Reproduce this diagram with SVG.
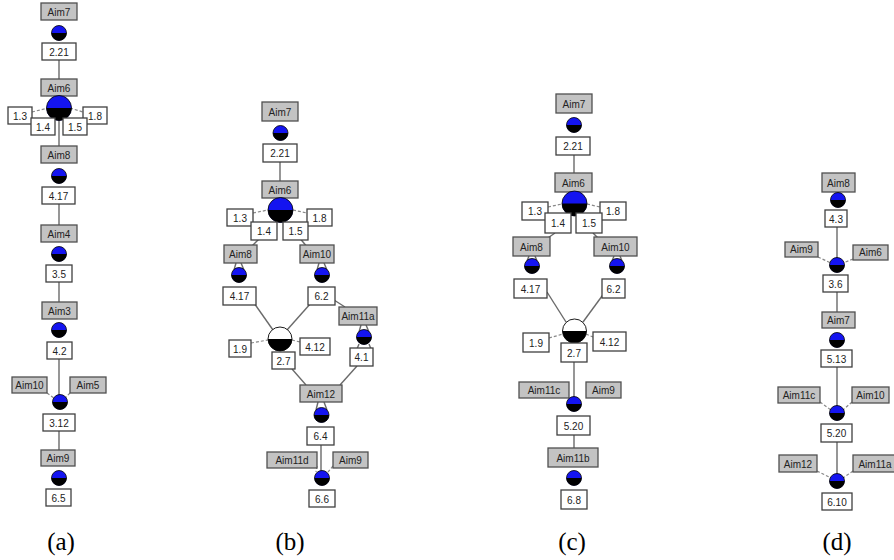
<svg xmlns="http://www.w3.org/2000/svg" xmlns:xlink="http://www.w3.org/1999/xlink" width="894" height="560" viewBox="0 0 894 560">
<style>
.g rect{fill:#c3c3c3;stroke:#505050;stroke-width:1.3}
.w rect{fill:#fff;stroke:#404040;stroke-width:1.3}
text{font-family:"Liberation Sans",Arial,sans-serif;font-size:10px;fill:#222;text-anchor:middle}
.cap{font-family:"Liberation Serif","Times New Roman",serif;font-size:25px;fill:#000}
.ln line{stroke:#6a6a6a;stroke-width:1.4}
.ln .d{stroke-dasharray:3 2;stroke:#888;stroke-width:1.2}
</style>
<defs>
<g id="dot"><circle r="7.5" fill="#1414f0" stroke="#000" stroke-width="0.8"/><path d="M-7.5,0 A7.5,7.5 0 0 0 7.5,0 Z" fill="#000"/></g>
<g id="big"><circle r="12.5" fill="#1414f0" stroke="#000" stroke-width="0.8"/><path d="M-12.5,0 A12.5,12.5 0 0 0 12.5,0 Z" fill="#000"/></g>
<g id="wdot"><circle r="12" fill="#fff" stroke="#000" stroke-width="0.9"/><path d="M-12,0 A12,12 0 0 0 12,0 Z" fill="#000"/></g>
</defs>

<g id="connectors" class="ln">
<!-- a -->
<line x1="59" y1="60" x2="59" y2="79"/>
<line x1="59" y1="120" x2="59" y2="146"/>
<line class="d" x1="32" y1="112" x2="48" y2="108"/>
<line class="d" x1="70" y1="108" x2="83" y2="112"/>
<line x1="59" y1="204" x2="59" y2="225"/>
<line x1="59" y1="282" x2="59" y2="302"/>
<line x1="59" y1="359" x2="59" y2="400"/>
<line class="d" x1="47" y1="393" x2="54" y2="398"/>
<line class="d" x1="70" y1="393" x2="65" y2="398"/>
<line x1="59" y1="431" x2="59" y2="450"/>
<!-- b -->
<line x1="280" y1="162" x2="280" y2="181"/>
<line class="d" x1="253" y1="213" x2="268" y2="210"/>
<line class="d" x1="293" y1="210" x2="307" y2="213"/>
<line x1="262" y1="236" x2="250" y2="248"/>
<line x1="298" y1="236" x2="308" y2="248"/>
<line x1="236" y1="263" x2="234" y2="270"/>
<line x1="241" y1="263" x2="244" y2="270"/>
<line x1="319" y1="263" x2="317" y2="270"/>
<line x1="324" y1="263" x2="327" y2="270"/>
<line x1="254" y1="303" x2="273" y2="330"/>
<line x1="311" y1="303" x2="287" y2="330"/>
<line x1="334" y1="300" x2="345" y2="307"/>
<line x1="361" y1="325" x2="359" y2="332"/>
<line x1="366" y1="325" x2="369" y2="332"/>
<line x1="359" y1="344" x2="357" y2="349"/>
<line x1="369" y1="344" x2="371" y2="349"/>
<line class="d" x1="251" y1="343" x2="268" y2="340"/>
<line class="d" x1="292" y1="340" x2="300" y2="342"/>
<line x1="292" y1="369" x2="306" y2="385"/>
<line x1="357" y1="366" x2="340" y2="385"/>
<line x1="318" y1="402" x2="316" y2="410"/>
<line x1="324" y1="402" x2="327" y2="410"/>
<line x1="321" y1="445" x2="321" y2="478"/>
<line class="d" x1="317" y1="466" x2="316" y2="472"/>
<line class="d" x1="333" y1="466" x2="328" y2="472"/>
<!-- c -->
<line x1="574" y1="155" x2="574" y2="173"/>
<line class="d" x1="548" y1="207" x2="562" y2="204"/>
<line class="d" x1="587" y1="204" x2="600" y2="207"/>
<line x1="555" y1="233" x2="545" y2="240"/>
<line x1="593" y1="233" x2="600" y2="240"/>
<line x1="529" y1="256" x2="527" y2="261"/>
<line x1="535" y1="256" x2="537" y2="261"/>
<line x1="614" y1="256" x2="612" y2="261"/>
<line x1="620" y1="256" x2="622" y2="261"/>
<line x1="547" y1="292" x2="566" y2="322"/>
<line x1="605" y1="292" x2="583" y2="322"/>
<line class="d" x1="549" y1="338" x2="563" y2="334"/>
<line class="d" x1="586" y1="334" x2="593" y2="337"/>
<line x1="574" y1="362" x2="574" y2="404"/>
<line x1="574" y1="435" x2="574" y2="448"/>
<!-- d -->
<line x1="837" y1="227" x2="837" y2="265"/>
<line class="d" x1="818" y1="257" x2="831" y2="263"/>
<line class="d" x1="853" y1="259" x2="843" y2="263"/>
<line x1="837" y1="292" x2="837" y2="312"/>
<line x1="837" y1="367" x2="837" y2="413"/>
<line class="d" x1="820" y1="402" x2="831" y2="410"/>
<line class="d" x1="852" y1="402" x2="843" y2="410"/>
<line x1="837" y1="442" x2="837" y2="481"/>
<line class="d" x1="817" y1="471" x2="831" y2="478"/>
<line class="d" x1="853" y1="471" x2="843" y2="478"/>
</g>

<!-- ===== (a) ===== -->
<g id="a_aim7" class="g"><rect x="41" y="3" width="36" height="17"/><text x="59" y="15.5">Aim7</text></g>
<g id="a_dot1"><use xlink:href="#dot" x="59" y="33"/></g>
<g id="a_221" class="w"><rect x="42" y="43" width="34" height="17"/><text x="59" y="55.5">2.21</text></g>
<g id="a_aim6" class="g"><rect x="41" y="79" width="36" height="17"/><text x="59" y="91.5">Aim6</text></g>
<g id="a_big"><use xlink:href="#big" x="59" y="108"/></g>
<g id="a_13" class="w"><rect x="8" y="107" width="24" height="17"/><text x="20" y="119.5">1.3</text></g>
<g id="a_18" class="w"><rect x="83" y="107" width="24" height="17"/><text x="95" y="119.5">1.8</text></g>
<g id="a_14" class="w"><rect x="31" y="118" width="24" height="17"/><text x="43" y="130.5">1.4</text></g>
<g id="a_15" class="w"><rect x="63" y="118" width="24" height="17"/><text x="75" y="130.5">1.5</text></g>
<g id="a_aim8" class="g"><rect x="41" y="146" width="36" height="17"/><text x="59" y="158.5">Aim8</text></g>
<g id="a_dot2"><use xlink:href="#dot" x="59" y="176"/></g>
<g id="a_417" class="w"><rect x="42" y="187" width="33" height="17"/><text x="58.5" y="199.5">4.17</text></g>
<g id="a_aim4" class="g"><rect x="41" y="225" width="36" height="17"/><text x="59" y="237.5">Aim4</text></g>
<g id="a_dot3"><use xlink:href="#dot" x="59" y="254"/></g>
<g id="a_35" class="w"><rect x="46" y="265" width="26" height="17"/><text x="59" y="277.5">3.5</text></g>
<g id="a_aim3" class="g"><rect x="42" y="302" width="35" height="17"/><text x="59.5" y="314.5">Aim3</text></g>
<g id="a_dot4"><use xlink:href="#dot" x="59" y="330"/></g>
<g id="a_42" class="w"><rect x="47" y="342" width="25" height="17"/><text x="59.5" y="354.5">4.2</text></g>
<g id="a_aim10" class="g"><rect x="12" y="377" width="35" height="16"/><text x="29.5" y="389">Aim10</text></g>
<g id="a_aim5" class="g"><rect x="70" y="377" width="36" height="16"/><text x="88" y="389">Aim5</text></g>
<g id="a_dot5"><use xlink:href="#dot" x="60" y="402"/></g>
<g id="a_312" class="w"><rect x="43" y="414" width="32" height="17"/><text x="59" y="426.5">3.12</text></g>
<g id="a_aim9" class="g"><rect x="41" y="450" width="34" height="16"/><text x="58" y="462">Aim9</text></g>
<g id="a_dot6"><use xlink:href="#dot" x="59" y="478"/></g>
<g id="a_65" class="w"><rect x="46" y="489" width="25" height="17"/><text x="58.5" y="501.5">6.5</text></g>
<text class="cap" x="61" y="550">(a)</text>

<!-- ===== (b) ===== -->
<g id="b_aim7" class="g"><rect x="262" y="102" width="36" height="19"/><text x="280" y="115.5">Aim7</text></g>
<g id="b_dot1"><use xlink:href="#dot" x="280.5" y="133"/></g>
<g id="b_221" class="w"><rect x="263" y="144" width="34" height="18"/><text x="280" y="157">2.21</text></g>
<g id="b_aim6" class="g"><rect x="262" y="181" width="36" height="17"/><text x="280" y="193.5">Aim6</text></g>
<g id="b_big"><use xlink:href="#big" x="280.5" y="210"/></g>
<g id="b_13" class="w"><rect x="227" y="209" width="26" height="17"/><text x="240" y="221.5">1.3</text></g>
<g id="b_18" class="w"><rect x="307" y="209" width="25" height="17"/><text x="319.5" y="221.5">1.8</text></g>
<g id="b_14" class="w"><rect x="251" y="222" width="26" height="18"/><text x="264" y="235">1.4</text></g>
<g id="b_15" class="w"><rect x="283" y="222" width="25" height="18"/><text x="295.5" y="235">1.5</text></g>
<g id="b_aim8" class="g"><rect x="224" y="245" width="33" height="18"/><text x="240.5" y="258">Aim8</text></g>
<g id="b_aim10" class="g"><rect x="300" y="245" width="34" height="18"/><text x="317" y="258">Aim10</text></g>
<g id="b_dot2"><use xlink:href="#dot" x="239" y="275"/></g>
<g id="b_dot3"><use xlink:href="#dot" x="322" y="275"/></g>
<g id="b_417" class="w"><rect x="223" y="287" width="33" height="18"/><text x="239.5" y="300">4.17</text></g>
<g id="b_62" class="w"><rect x="308" y="287" width="27" height="18"/><text x="321.5" y="300">6.2</text></g>
<g id="b_aim11a" class="g"><rect x="339" y="307" width="38" height="18"/><text x="358" y="320">Aim11a</text></g>
<g id="b_wdot"><use xlink:href="#wdot" x="280" y="339"/></g>
<g id="b_dot4"><use xlink:href="#dot" x="364" y="337"/></g>
<g id="b_19" class="w"><rect x="229" y="340" width="22" height="17"/><text x="240" y="352.5">1.9</text></g>
<g id="b_412" class="w"><rect x="300" y="338" width="30" height="17"/><text x="315" y="350.5">4.12</text></g>
<g id="b_27" class="w"><rect x="272" y="352" width="23" height="17"/><text x="283.5" y="364.5">2.7</text></g>
<g id="b_41" class="w"><rect x="350" y="348" width="23" height="18"/><text x="361.5" y="361">4.1</text></g>
<g id="b_aim12" class="g"><rect x="300" y="385" width="42" height="17"/><text x="321" y="397.5">Aim12</text></g>
<g id="b_dot5"><use xlink:href="#dot" x="321.5" y="415"/></g>
<g id="b_64" class="w"><rect x="307" y="427" width="27" height="18"/><text x="320.5" y="440">6.4</text></g>
<g id="b_aim11d" class="g"><rect x="267" y="452" width="50" height="16"/><text x="292" y="464">Aim11d</text></g>
<g id="b_aim9" class="g"><rect x="333" y="452" width="35" height="16"/><text x="350.5" y="464">Aim9</text></g>
<g id="b_dot6"><use xlink:href="#dot" x="322" y="478"/></g>
<g id="b_66" class="w"><rect x="309" y="490" width="26" height="17"/><text x="322" y="502.5">6.6</text></g>
<text class="cap" x="290" y="550">(b)</text>

<!-- ===== (c) ===== -->
<g id="c_aim7" class="g"><rect x="556" y="94" width="36" height="19"/><text x="574" y="107.5">Aim7</text></g>
<g id="c_dot1"><use xlink:href="#dot" x="574" y="125"/></g>
<g id="c_221" class="w"><rect x="556" y="137" width="34" height="18"/><text x="573" y="150">2.21</text></g>
<g id="c_aim6" class="g"><rect x="555" y="173" width="37" height="19"/><text x="573.5" y="186.5">Aim6</text></g>
<g id="c_big"><use xlink:href="#big" x="574.5" y="203.5"/></g>
<g id="c_13" class="w"><rect x="522" y="202" width="26" height="18"/><text x="535" y="215">1.3</text></g>
<g id="c_18" class="w"><rect x="600" y="202" width="26" height="18"/><text x="613" y="215">1.8</text></g>
<g id="c_14" class="w"><rect x="545" y="213" width="26" height="20"/><text x="558" y="227">1.4</text></g>
<g id="c_15" class="w"><rect x="576" y="213" width="26" height="20"/><text x="589" y="227">1.5</text></g>
<g id="c_aim8" class="g"><rect x="513" y="237" width="37" height="19"/><text x="531.5" y="250.5">Aim8</text></g>
<g id="c_aim10" class="g"><rect x="594" y="237" width="43" height="19"/><text x="615.5" y="250.5">Aim10</text></g>
<g id="c_dot2"><use xlink:href="#dot" x="532" y="266"/></g>
<g id="c_dot3"><use xlink:href="#dot" x="617" y="266"/></g>
<g id="c_417" class="w"><rect x="514" y="279" width="33" height="19"/><text x="530.5" y="292.5">4.17</text></g>
<g id="c_62" class="w"><rect x="602" y="279" width="23" height="19"/><text x="613.5" y="292.5">6.2</text></g>
<g id="c_wdot"><use xlink:href="#wdot" x="574.5" y="331"/></g>
<g id="c_19" class="w"><rect x="523" y="333" width="26" height="19"/><text x="536" y="346.5">1.9</text></g>
<g id="c_412" class="w"><rect x="593" y="332" width="33" height="19"/><text x="609.5" y="345.5">4.12</text></g>
<g id="c_27" class="w"><rect x="561" y="343" width="26" height="19"/><text x="574" y="356.5">2.7</text></g>
<g id="c_aim11c" class="g"><rect x="519" y="382" width="50" height="16"/><text x="544" y="394">Aim11c</text></g>
<g id="c_aim9" class="g"><rect x="586" y="382" width="35" height="16"/><text x="603.5" y="394">Aim9</text></g>
<g id="c_dot4"><use xlink:href="#dot" x="574" y="404"/></g>
<g id="c_520" class="w"><rect x="557" y="416" width="33" height="19"/><text x="573.5" y="429.5">5.20</text></g>
<g id="c_aim11b" class="g"><rect x="548" y="448" width="50" height="19"/><text x="573" y="461.5">Aim11b</text></g>
<g id="c_dot5"><use xlink:href="#dot" x="574" y="478"/></g>
<g id="c_68" class="w"><rect x="561" y="490" width="26" height="19"/><text x="574" y="503.5">6.8</text></g>
<text class="cap" x="572" y="550">(c)</text>

<!-- ===== (d) ===== -->
<g id="d_aim8" class="g"><rect x="822" y="173" width="33" height="19"/><text x="838.5" y="186.5">Aim8</text></g>
<g id="d_dot1"><use xlink:href="#dot" x="838" y="200"/></g>
<g id="d_43" class="w"><rect x="825" y="210" width="22" height="17"/><text x="836" y="222.5">4.3</text></g>
<g id="d_aim9" class="g"><rect x="785" y="242" width="33" height="15"/><text x="801.5" y="253">Aim9</text></g>
<g id="d_aim6" class="g"><rect x="853" y="245" width="35" height="15"/><text x="870.5" y="256">Aim6</text></g>
<g id="d_dot2"><use xlink:href="#dot" x="837" y="265"/></g>
<g id="d_36" class="w"><rect x="823" y="275" width="25" height="17"/><text x="835.5" y="287.5">3.6</text></g>
<g id="d_aim7" class="g"><rect x="822" y="312" width="33" height="16"/><text x="838.5" y="324">Aim7</text></g>
<g id="d_dot3"><use xlink:href="#dot" x="837" y="340"/></g>
<g id="d_513" class="w"><rect x="821" y="350" width="31" height="17"/><text x="836.5" y="362.5">5.13</text></g>
<g id="d_aim11c" class="g"><rect x="778" y="387" width="42" height="16"/><text x="799" y="399">Aim11c</text></g>
<g id="d_aim10" class="g"><rect x="852" y="387" width="37" height="16"/><text x="870.5" y="399">Aim10</text></g>
<g id="d_dot4"><use xlink:href="#dot" x="837" y="413"/></g>
<g id="d_520" class="w"><rect x="821" y="424" width="31" height="18"/><text x="836.5" y="437">5.20</text></g>
<g id="d_aim12" class="g"><rect x="779" y="455" width="38" height="17"/><text x="798" y="467.5">Aim12</text></g>
<g id="d_aim11a" class="g"><rect x="853" y="455" width="44" height="17"/><text x="875" y="467.5">Aim11a</text></g>
<g id="d_dot5"><use xlink:href="#dot" x="837" y="481"/></g>
<g id="d_610" class="w"><rect x="822" y="493" width="30" height="17"/><text x="837" y="505.5">6.10</text></g>
<text class="cap" x="837" y="550">(d)</text>
</svg>
